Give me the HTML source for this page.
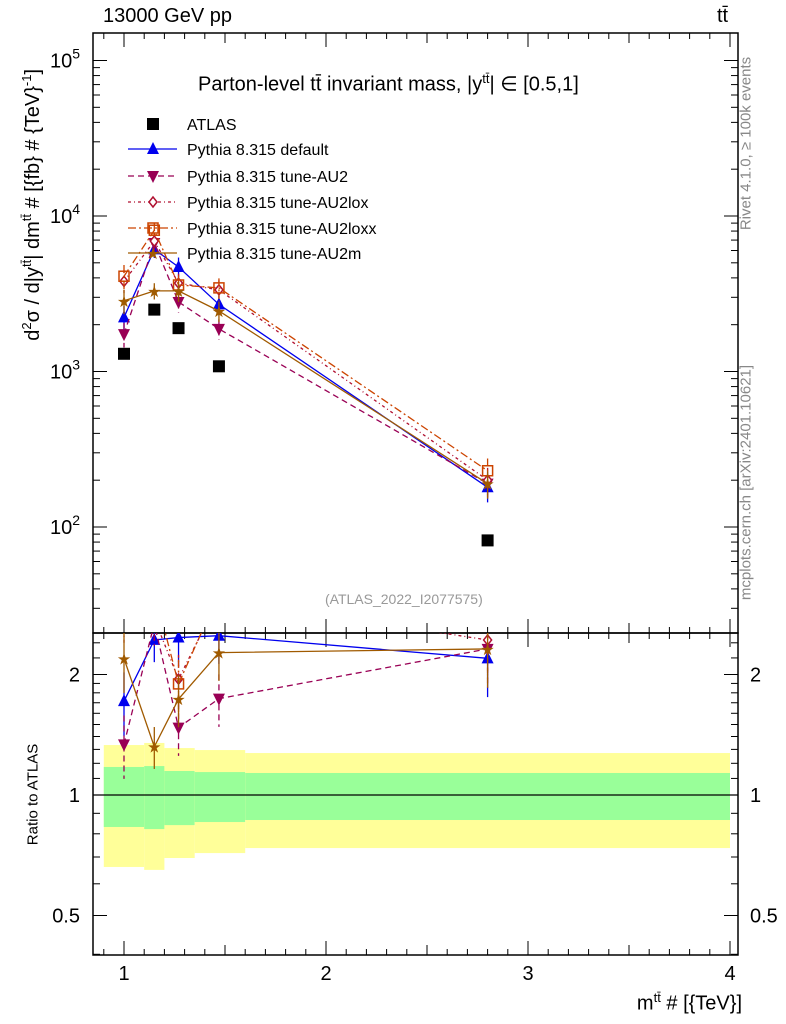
<!DOCTYPE html>
<html><head><meta charset="utf-8">
<style>
html,body{margin:0;padding:0;background:#fff;}
svg{display:block;font-family:"Liberation Sans",sans-serif;}
</style></head>
<body>
<svg id="c" width="786" height="1024" viewBox="0 0 786 1024"></svg>
<script>
const xs=[1.0,1.15,1.27,1.47,2.8];
const binEdges=[0.9,1.1,1.2,1.35,1.6,4.0];
const atlas=[1300,2500,1900,1080,82];
const pyDefault=[2230,6100,4700,2700,180];
const pyAU2=[1740,6700,2800,1880,190];
const pyAU2lox=[3800,6900,3700,3350,200];
const pyAU2loxx=[4100,8100,3600,3450,230];
const pyAU2m=[2850,3300,3300,2450,190];
const errFrac=[0.18,0.12,0.15,0.15,0.2];
const bandYelUp=[1.333,1.349,1.31,1.295,1.273];
const bandYelDn=[0.661,0.65,0.696,0.716,0.737];
const bandGrnUp=[1.175,1.181,1.148,1.141,1.135];
const bandGrnDn=[0.832,0.822,0.841,0.856,0.866];
const yTicksMain=[2,3,4,5];
const ratioTicks=[0.5,1,2];
const xTicks=[1,2,3,4];

const NS="http://www.w3.org/2000/svg";
const svg=document.getElementById('c');
function el(t,a,p){const e=document.createElementNS(NS,t);for(const k in a)e.setAttribute(k,a[k]);(p||svg).appendChild(e);return e;}
const L=93,R=738,T=33,M=633,B=955;
const X=v=>124+(v-1)*202;
const Y=v=>527-(Math.log10(v)-2)*155.5;
const YR=v=>795-Math.log2(v)*120.5;

const bands=el('g',{});


for(let i=0;i<5;i++){
  const x1=X(binEdges[i]),x2=X(binEdges[i+1]);
  const r=el('rect',{x:x1,y:YR(bandYelUp[i]),width:x2-x1,height:YR(bandYelDn[i])-YR(bandYelUp[i]),fill:'#ffff99'},bands);
  
  
  const g=el('rect',{x:x1,y:YR(bandGrnUp[i]),width:x2-x1,height:YR(bandGrnDn[i])-YR(bandGrnUp[i]),fill:'#99ff99'},bands);
  
  
}
el('line',{x1:L,x2:R,y1:YR(1),y2:YR(1),stroke:'#000','stroke-width':1.2});

const f1=el('rect',{x:L,y:T,width:R-L,height:M-T,fill:'none',stroke:'#000','stroke-width':1.5});

const f2=el('rect',{x:L,y:M,width:R-L,height:B-M,fill:'none',stroke:'#000','stroke-width':1.5});


for(let d=1;d<=5;d++){for(let m=1;m<10;m++){const v=m*Math.pow(10,d);const y=Y(v);if(y<T||y>M)continue;const len=m==1?14:7;
el('line',{x1:L,x2:L+len,y1:y,y2:y,stroke:'#000'});el('line',{x1:R,x2:R-len,y1:y,y2:y,stroke:'#000'});}}
yTicksMain.forEach(p=>{const t=el('text',{x:80,y:Y(Math.pow(10,p))+7,'text-anchor':'end','font-size':20});t.innerHTML='10<tspan dy="-9" font-size="14">'+p+'</tspan>';
});
[0.4,0.5,0.6,0.7,0.8,0.9,1,1.1,1.2,1.3,1.4,1.5,1.6,1.7,1.8,1.9,2,2.2,2.4].forEach(v=>{const y=YR(v);const len=(v==0.5||v==1||v==2)?14:7;
el('line',{x1:L,x2:L+len,y1:y,y2:y,stroke:'#000'});el('line',{x1:R,x2:R-len,y1:y,y2:y,stroke:'#000'});});
ratioTicks.forEach(v=>{const a=el('text',{x:80,y:YR(v)+7,'text-anchor':'end','font-size':20});a.textContent=v;

const b=el('text',{x:750,y:YR(v)+7,'font-size':20});b.textContent=v;
});
for(let v=0.9;v<=4.01;v+=0.1){const x=X(v);const big=Math.abs(v-Math.round(v))<0.01;const half=Math.abs(v*2-Math.round(v*2))<0.01;const len=big?14:(half?10:6);
[[T,1],[M,1],[B,-1]].forEach(([y,s])=>{el('line',{x1:x,x2:x,y1:y,y2:y+s*len,stroke:'#000'});});
el('line',{x1:x,x2:x,y1:M,y2:M-len,stroke:'#000'});}
xTicks.forEach(v=>{const t=el('text',{x:X(v),y:980,'text-anchor':'middle','font-size':20});t.textContent=v;
});

const series=[
 {n:'pythia-default',d:pyDefault,c:'#0000ee',dash:'',m:'tri'},
 {n:'pythia-au2',d:pyAU2,c:'#990055',dash:'6,4',m:'dtri'},
 {n:'pythia-au2lox',d:pyAU2lox,c:'#b01030',dash:'3,3,1,3',m:'dia'},
 {n:'pythia-au2loxx',d:pyAU2loxx,c:'#cc4400',dash:'8,3,2,3',m:'sq'},
 {n:'pythia-au2m',d:pyAU2m,c:'#a05a00',dash:'',m:'star'},
];
function marker(g,type,x,y,c){
  let e;
  if(type=='tri')e=el('polygon',{points:`${x},${y-7} ${x-6},${y+5} ${x+6},${y+5}`,fill:c},g);
  else if(type=='dtri')e=el('polygon',{points:`${x},${y+7} ${x-6},${y-5} ${x+6},${y-5}`,fill:c},g);
  else if(type=='dia')e=el('polygon',{points:`${x},${y-5} ${x-4},${y} ${x},${y+5} ${x+4},${y}`,fill:'#fff',stroke:c,'stroke-width':1.5},g);
  else if(type=='sq')e=el('rect',{x:x-5,y:y-5,width:10,height:10,fill:'none',stroke:c,'stroke-width':1.5},g);
  else e=el('text',{x:x,y:y+6,'text-anchor':'middle','font-size':16,fill:c},g),e.textContent='★';
  return e;
}
const clipM=el('clipPath',{id:'cm'});el('rect',{x:L,y:T,width:R-L,height:M-T},clipM);
const clipR=el('clipPath',{id:'cr'});el('rect',{x:L,y:M,width:R-L,height:B-M},clipR);
series.forEach(s=>{
  const g=el('g',{'clip-path':'url(#cm)'});
  
  el('polyline',{points:xs.map((x,i)=>X(x)+','+Y(s.d[i])).join(' '),fill:'none',stroke:s.c,'stroke-width':1.3,'stroke-dasharray':s.dash},g);
  xs.forEach((x,i)=>{const v=s.d[i];el('line',{x1:X(x),x2:X(x),y1:Y(v*(1+errFrac[i])),y2:Y(v*(1-errFrac[i])),stroke:s.c,'stroke-width':1.3,'stroke-dasharray':s.dash},g);
    const mk=marker(g,s.m,X(x),Y(v),s.c);});
  const gr=el('g',{'clip-path':'url(#cr)'});
  
  const rr=s.d.map((v,i)=>v/atlas[i]);
  el('polyline',{points:xs.map((x,i)=>X(x)+','+YR(rr[i])).join(' '),fill:'none',stroke:s.c,'stroke-width':1.3,'stroke-dasharray':s.dash},gr);
  xs.forEach((x,i)=>{el('line',{x1:X(x),x2:X(x),y1:YR(rr[i]*(1+errFrac[i])),y2:YR(rr[i]*(1-errFrac[i])),stroke:s.c,'stroke-width':1.3,'stroke-dasharray':s.dash},gr);
    const mk=marker(gr,s.m,X(x),YR(rr[i]),s.c);});
});
const ga=el('g',{});
xs.forEach((x,i)=>{const r=el('rect',{x:X(x)-6,y:Y(atlas[i])-6,width:12,height:12,fill:'#000'},ga);
});

const lg=el('g',{});
const ly=[124,149,176,202,228,253];
el('rect',{x:147,y:ly[0]-6,width:12,height:12,fill:'#000'},lg);
const lt0=el('text',{x:187,y:ly[0]+6,'font-size':16},lg);lt0.textContent='ATLAS';
const labs=['Pythia 8.315 default','Pythia 8.315 tune-AU2','Pythia 8.315 tune-AU2lox','Pythia 8.315 tune-AU2loxx','Pythia 8.315 tune-AU2m'];
series.forEach((s,i)=>{const y=ly[i+1];el('line',{x1:128,x2:177,y1:y,y2:y,stroke:s.c,'stroke-width':1.3,'stroke-dasharray':s.dash},lg);
marker(lg,s.m,153,y,s.c);const t=el('text',{x:187,y:y+6,'font-size':16},lg);t.textContent=labs[i];
});
</script>
<div style="position:absolute;left:0;top:0;width:786px;height:1024px;pointer-events:none;font-family:'Liberation Sans',sans-serif;">
<div style="position:absolute;left:103px;top:5px;font-size:20px;">13000 GeV pp</div>
<div style="position:absolute;left:717px;top:5px;font-size:20px;">tt̄</div>
<div style="position:absolute;left:198px;top:71px;font-size:20px;">Parton-level tt̄ invariant mass, |y<sup style="font-size:13px">tt̄</sup>| ∈ [0.5,1]</div>
<div style="position:absolute;left:325px;top:591px;font-size:14px;color:#999;">(ATLAS_2022_I2077575)</div>
<div style="position:absolute;left:-168px;top:192px;width:400px;text-align:center;transform:rotate(-90deg);font-size:20px;white-space:nowrap;">d<sup style="font-size:13px">2</sup>σ / d|y<sup style="font-size:13px">tt̄</sup>| dm<sup style="font-size:13px">tt̄</sup> # [{fb} # {TeV}<sup style="font-size:13px">-1</sup>]</div>
<div style="position:absolute;left:-52px;top:786px;width:170px;text-align:center;transform:rotate(-90deg);font-size:15px;white-space:nowrap;">Ratio to ATLAS</div>
<div style="position:absolute;right:44px;top:990px;font-size:20px;">m<sup style="font-size:13px">tt̄</sup> # [{TeV}]</div>
<div style="position:absolute;left:606px;top:135px;width:280px;text-align:center;transform:rotate(-90deg);font-size:15px;color:#888;white-space:nowrap;">Rivet 4.1.0, ≥ 100k events</div>
<div style="position:absolute;left:586px;top:474px;width:320px;text-align:center;transform:rotate(-90deg);font-size:15px;color:#888;white-space:nowrap;">mcplots.cern.ch [arXiv:2401.10621]</div>
</div>
</body></html>
